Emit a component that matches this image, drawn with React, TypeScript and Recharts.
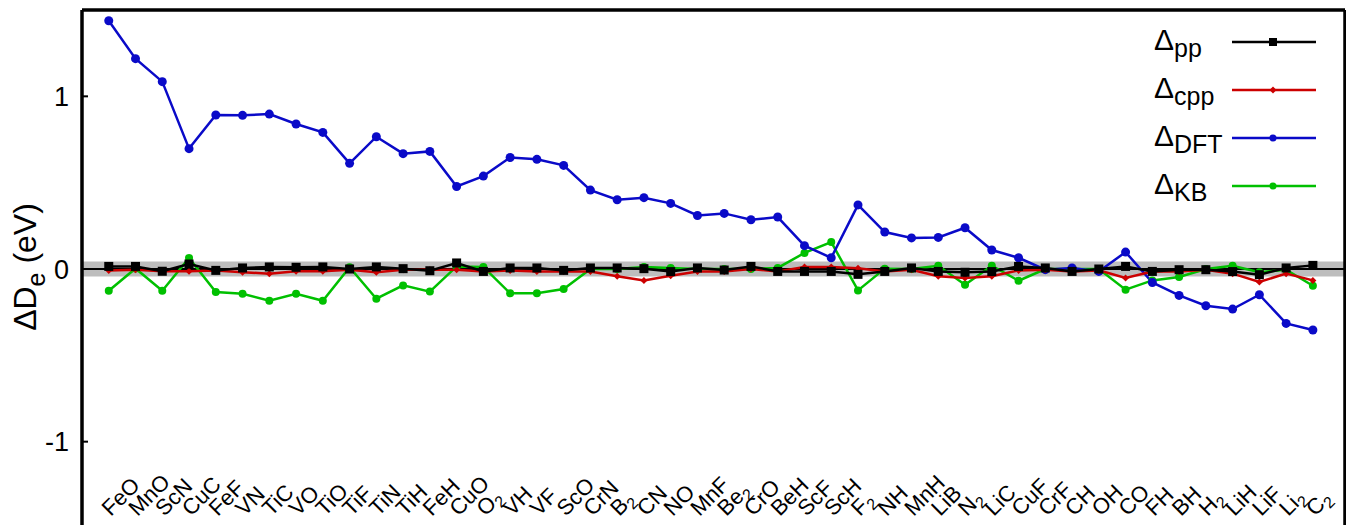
import React from 'react';
import { LineChart, Line, XAxis, YAxis, ReferenceArea, ReferenceLine, Legend, Label } from 'recharts';

const molecules = ['FeO','MnO','ScN','CuC','FeF','VN','TiC','VO','TiO','TiF','TiN','TiH','FeH','CuO','O2','VH','VF','ScO','CrN','B2','CN','NO','MnF','Be2','CrO','BeH','ScF','ScH','F2','NH','MnH','LiB','N2','LiC','CuF','CrF','CH','OH','CO','FH','BH','H2','LiH','LiF','Li2','C2'];

const deltaPP = [0.015,0.015,-0.013,0.029,-0.008,0.006,0.012,0.01,0.012,0,0.012,0.002,-0.01,0.035,-0.014,0.006,0.006,-0.008,0.006,0.006,0.002,-0.015,0.006,-0.006,0.015,-0.014,-0.014,-0.014,-0.031,-0.014,0.006,-0.014,-0.019,-0.015,0.015,0.006,-0.014,0,0.015,-0.014,-0.004,-0.004,-0.015,-0.033,0.006,0.021];
const deltaCPP = [-0.008,-0.004,-0.013,-0.013,-0.008,-0.019,-0.027,-0.013,-0.013,-0.004,-0.019,-0.004,-0.004,-0.004,-0.014,-0.008,-0.014,-0.014,-0.014,-0.042,-0.066,-0.039,-0.014,-0.014,0.0,-0.014,0.012,0.012,0.004,-0.014,-0.004,-0.042,-0.052,-0.042,-0.008,-0.004,-0.014,-0.008,-0.052,-0.014,-0.014,-0.004,-0.027,-0.075,-0.027,-0.066];
const deltaDFT = [1.438,1.218,1.085,0.697,0.892,0.890,0.897,0.840,0.791,0.612,0.766,0.668,0.681,0.478,0.538,0.646,0.635,0.600,0.457,0.401,0.413,0.380,0.310,0.322,0.285,0.301,0.135,0.065,0.371,0.214,0.180,0.183,0.239,0.110,0.065,-0.004,0.006,-0.014,0.098,-0.078,-0.153,-0.213,-0.232,-0.149,-0.315,-0.353];
const deltaKB = [-0.126,0.003,-0.126,0.064,-0.133,-0.143,-0.184,-0.143,-0.184,0.01,-0.172,-0.095,-0.131,0.015,0.012,-0.141,-0.141,-0.116,0.0,0.0,0.012,0.006,0.0,0.0,0.0,0.006,0.093,0.156,-0.124,0.002,0.0,0.019,-0.091,0.019,-0.068,0.0,0.0,0.0,-0.120,-0.066,-0.046,0.0,0.019,-0.019,-0.004,-0.097];

const yTicks = [-1, 0, 1];
const yDomain = [-1.5, 1.5];
const xDomain = [-1, 46.2];
const chemAccuracy = 0.0434;

const FONT = '"Liberation Sans", Arial, Helvetica, sans-serif';

const data = molecules.map((name, i) => ({
  idx: i,
  name,
  pp: deltaPP[i],
  cpp: deltaCPP[i],
  dft: deltaDFT[i],
  kb: deltaKB[i],
}));
const xTicks = molecules.map((_, i) => i);

function splitFormula(s: string): [string, string] {
  const m = s.match(/^(.*?)(\d+)$/);
  return m ? [m[1], m[2]] : [s, ''];
}

// category label drawn at the category position given by the x scale (via a stroke-less ReferenceLine)
function makeCategoryLabel(name: string) {
  return function CategoryLabel(props: any) {
    const vb = props.viewBox || {};
    const [base, sub] = splitFormula(name);
    const ax = Number(vb.x) + 2;
    const ay = Number(vb.y) + Number(vb.height) - 11;
    return (
      <text x={ax} y={ay} transform={`rotate(-45 ${ax} ${ay})`} textAnchor="start" fontSize={22} fill="#000" fontFamily={FONT}>
        {base}
        {sub ? <tspan fontSize={16} dy={5}>{sub}</tspan> : null}
      </text>
    );
  };
}

function renderLeftTick(props: any) {
  const { x, y, payload, index } = props;
  return (
    <text key={`lt-${index}`} x={Number(x) - 19} y={y} dy="0.36em" textAnchor="end" fontSize={27} fill="#000" fontFamily={FONT}>
      {payload.value}
    </text>
  );
}

const squareDot = (p: any) => (
  <rect key={`sq-${p.index}`} x={p.cx - 4.5} y={p.cy - 4.5} width={9} height={9} fill="#000" />
);
const diamondDot = (p: any) => (
  <path key={`dm-${p.index}`} d={`M${p.cx},${p.cy - 3.5}L${p.cx + 3.5},${p.cy}L${p.cx},${p.cy + 3.5}L${p.cx - 3.5},${p.cy}Z`} fill="#cc0000" />
);
const blueDot = (p: any) => <circle key={`bd-${p.index}`} cx={p.cx} cy={p.cy} r={4.5} fill="#0a0ac8" />;
const greenDot = (p: any) => <circle key={`gd-${p.index}`} cx={p.cx} cy={p.cy} r={4} fill="#00c000" />;

const legendItems = [
  { sub: 'pp', color: '#000000', marker: 'square' },
  { sub: 'cpp', color: '#cc0000', marker: 'diamond' },
  { sub: 'DFT', color: '#0a0ac8', marker: 'circle' },
  { sub: 'KB', color: '#00c000', marker: 'circle' },
];

const LegendContent = () => (
  <div style={{ fontFamily: FONT, color: '#000' }}>
    {legendItems.map((it) => (
      <div key={it.sub} style={{ display: 'flex', alignItems: 'center', height: 48 }}>
        <div style={{ width: 78, fontSize: 30, lineHeight: '48px', whiteSpace: 'nowrap', position: 'relative', top: -2 }}>
          Δ<span style={{ fontSize: 25, position: 'relative', top: 7 }}>{it.sub}</span>
        </div>
        <svg width={84} height={48} style={{ display: 'block' }}>
          <line x1={0} x2={84} y1={24} y2={24} stroke={it.color} strokeWidth={2.5} />
          {it.marker === 'square' && <rect x={37} y={20} width={8} height={8} fill={it.color} />}
          {it.marker === 'diamond' && <path d="M41,20.5L44.5,24L41,27.5L37.5,24Z" fill={it.color} />}
          {it.marker === 'circle' && <circle cx={41} cy={24} r={3.5} fill={it.color} />}
        </svg>
      </div>
    ))}
  </div>
);

function renderYLabel(props: any) {
  const vb = props.viewBox || { x: 74, y: 2, width: 1, height: 518 };
  const cx = vb.x - 46;
  const cy = vb.y + vb.height / 2 - 2;
  return (
    <text key="ylab" x={cx} y={cy} transform={`rotate(-90 ${cx} ${cy})`} textAnchor="middle" fontSize={32} fill="#000" fontFamily={FONT}>
      ΔD<tspan fontSize={25} dy={9}>e</tspan>
      <tspan dy={-9}> (eV)</tspan>
    </text>
  );
}

export default function App() {
  return (
    <div style={{ width: 1346, height: 525, fontFamily: FONT }}>
      <LineChart width={1346} height={525} data={data} margin={{ top: 2, right: 9, bottom: 5, left: 74 }}>
        <XAxis xAxisId="b" dataKey="idx" type="number" domain={xDomain} ticks={xTicks} interval={0} orientation="bottom" mirror height={1}
          axisLine={{ stroke: '#000', strokeWidth: 3.5 }} tickLine={{ stroke: '#000', strokeWidth: 2 }} tickSize={6} tick={false} allowDataOverflow />
        <XAxis xAxisId="t" dataKey="idx" type="number" domain={xDomain} ticks={xTicks} interval={0} orientation="top" mirror height={1}
          axisLine={{ stroke: '#000', strokeWidth: 3.5 }} tickLine={{ stroke: '#000', strokeWidth: 2 }} tickSize={6} tick={false} allowDataOverflow />
        <YAxis yAxisId="l" type="number" domain={yDomain} ticks={yTicks} interval={0} orientation="left" mirror width={1}
          axisLine={{ stroke: '#000', strokeWidth: 3.5 }} tickLine={{ stroke: '#000', strokeWidth: 2 }} tickSize={6} tickMargin={0} tick={renderLeftTick} allowDataOverflow>
          <Label content={renderYLabel} />
        </YAxis>
        <YAxis yAxisId="r" type="number" domain={yDomain} ticks={yTicks} interval={0} orientation="right" mirror width={1}
          axisLine={{ stroke: '#000', strokeWidth: 3.5 }} tickLine={{ stroke: '#000', strokeWidth: 2 }} tickSize={6} tick={false} allowDataOverflow />
        <ReferenceArea xAxisId="b" yAxisId="l" y1={-chemAccuracy} y2={chemAccuracy} fill="#bdbdbd" fillOpacity={1} stroke="none" ifOverflow="hidden" />
        <ReferenceLine xAxisId="b" yAxisId="l" y={0} stroke="#000" strokeWidth={2} />
        {molecules.map((name, i) => (
          <ReferenceLine key={`cl-${name}`} xAxisId="b" yAxisId="l" x={i} stroke="none" strokeWidth={0}
            label={{ content: makeCategoryLabel(name) }} />
        ))}
        <Line xAxisId="b" yAxisId="l" dataKey="kb" stroke="#00c000" strokeWidth={2.5} dot={greenDot} activeDot={false} isAnimationActive={false} />
        <Line xAxisId="b" yAxisId="l" dataKey="dft" stroke="#0a0ac8" strokeWidth={2.5} dot={blueDot} activeDot={false} isAnimationActive={false} />
        <Line xAxisId="b" yAxisId="l" dataKey="cpp" stroke="#cc0000" strokeWidth={2.5} dot={diamondDot} activeDot={false} isAnimationActive={false} />
        <Line xAxisId="b" yAxisId="l" dataKey="pp" stroke="#000" strokeWidth={2.5} dot={squareDot} activeDot={false} isAnimationActive={false} />
        <Legend layout="vertical" align="center" verticalAlign="middle" content={<LegendContent />}
          wrapperStyle={{ left: 1146, top: 10, width: 170, height: 192 }} />
      </LineChart>
    </div>
  );
}
